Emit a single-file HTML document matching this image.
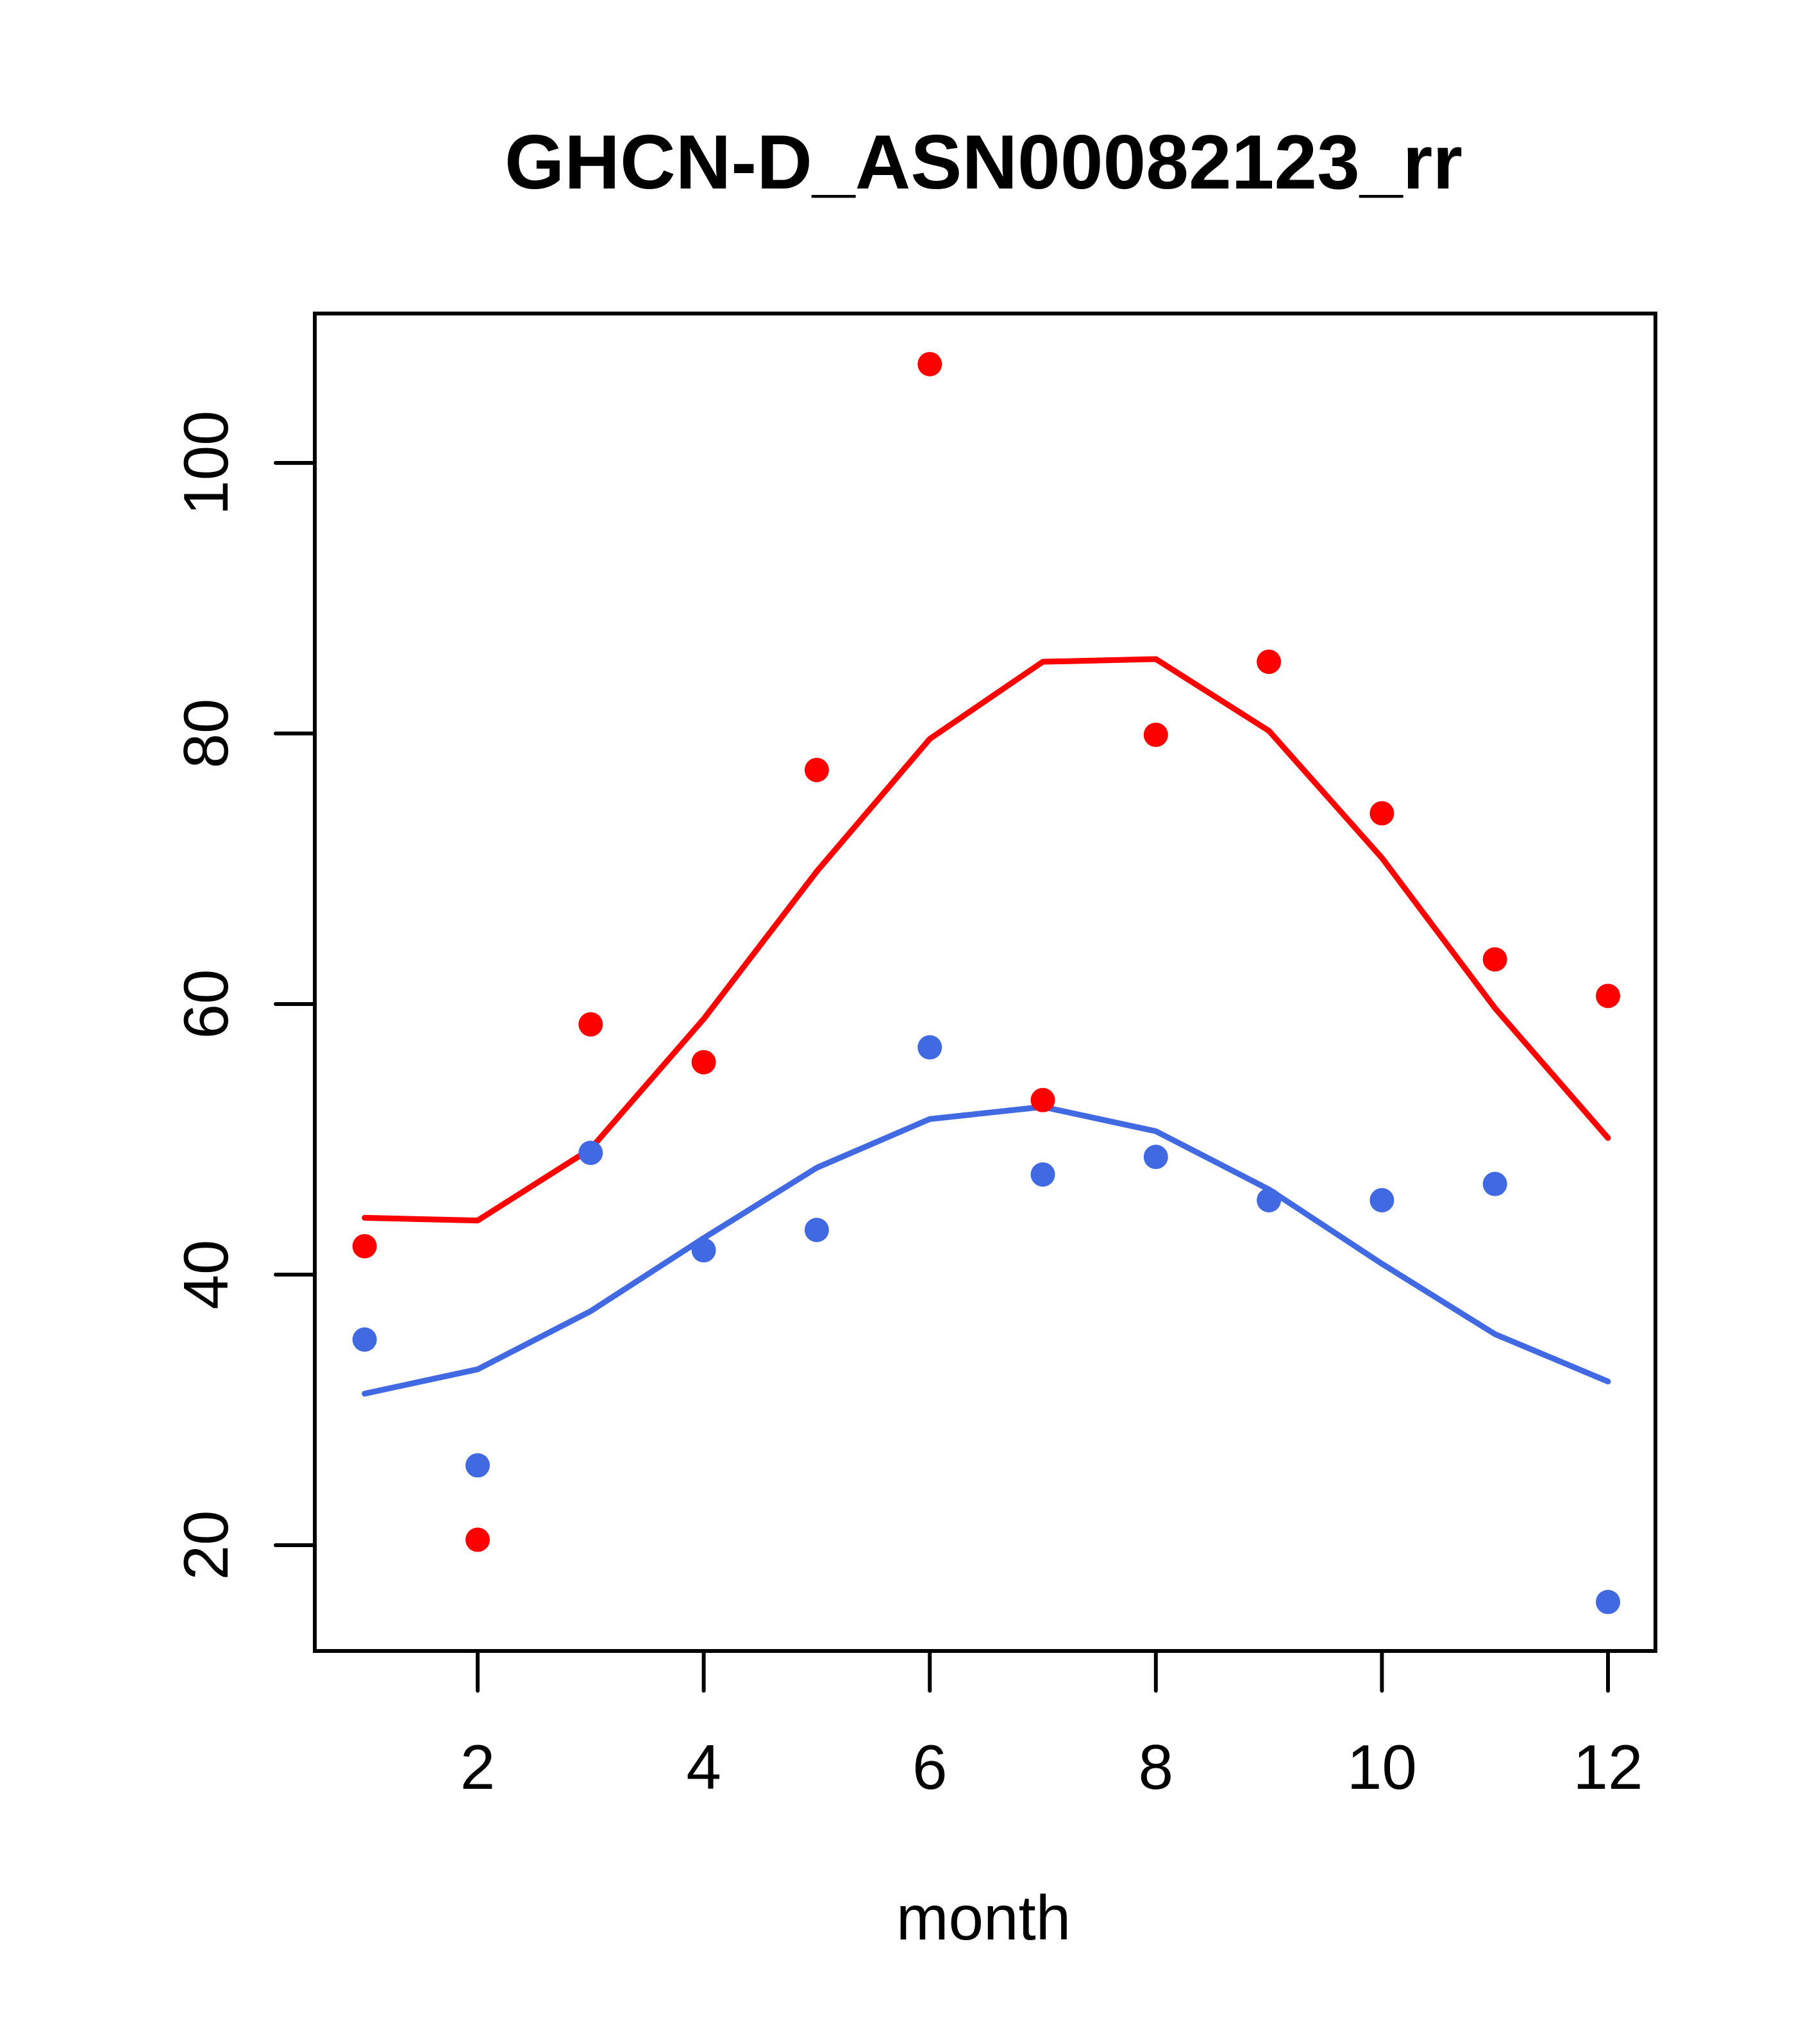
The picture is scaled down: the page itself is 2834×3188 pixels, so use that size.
<!DOCTYPE html>
<html><head><meta charset="utf-8"><style>
html,body{margin:0;padding:0;background:#fff}
svg{display:block}
text{font-family:"Liberation Sans",Arial,sans-serif}
</style></head><body>
<svg id="chart" width="2834" height="3188" viewBox="0 0 2834 3188" xmlns="http://www.w3.org/2000/svg">
<rect width="2834" height="3188" fill="#fff"/>
<text x="1534" y="294" font-size="120" font-weight="bold" text-anchor="middle">GHCN-D_ASN00082123_rr</text>
<rect x="491" y="489" width="2091" height="2086" fill="none" stroke="#000" stroke-width="6"/>
<text x="1534" y="3025" font-size="98" text-anchor="middle">month</text>
<g id="xaxis"></g>
<g id="yaxis"></g>
<g id="series"></g>
</svg>
<script>
const months=[1,2,3,4,5,6,7,8,9,10,11,12];
const redPoints=[42.1,20.4,58.5,55.7,77.3,107.3,52.9,79.9,85.3,74.1,63.3,60.6];
const redLine=[44.2,44.0,49.3,58.9,69.8,79.6,85.3,85.5,80.2,70.8,59.7,50.1];
const bluePoints=[35.2,25.9,49.0,41.8,43.3,56.8,47.4,48.7,45.5,45.5,46.7,15.8];
const blueLine=[31.2,33.0,37.3,42.7,47.9,51.5,52.4,50.6,46.3,40.8,35.6,32.1];
const xTicks=[2,4,6,8,10,12];
const yTicks=[20,40,60,80,100];

const NS="http://www.w3.org/2000/svg";
function X(m){return 745+(m-2)*176.3;}
function Y(v){return 2410-(v-20)*21.1;}
function mk(tag,attrs,parent){const e=document.createElementNS(NS,tag);for(const k in attrs)e.setAttribute(k,attrs[k]);parent.appendChild(e);return e;}
const xa=document.getElementById('xaxis'),ya=document.getElementById('yaxis'),sg=document.getElementById('series');
xTicks.forEach(t=>{
  const l=mk('line',{x1:X(t),x2:X(t),y1:2575,y2:2637,stroke:'#000','stroke-width':6,'stroke-linecap':'round'},xa);
  
  
  const tx=mk('text',{x:X(t),y:2790,'font-size':98,'text-anchor':'middle'},xa);
  tx.textContent=t;
  
  
});
yTicks.forEach(t=>{
  const l=mk('line',{x1:430,x2:491,y1:Y(t),y2:Y(t),stroke:'#000','stroke-width':6,'stroke-linecap':'round'},ya);
  
  
  const tx=mk('text',{x:0,y:0,'font-size':98,'text-anchor':'middle',transform:`translate(355,${Y(t)}) rotate(-90)`},ya);
  tx.textContent=t;
  
  
});
function line(vals,color,name){
  const p=mk('polyline',{points:vals.map((v,i)=>X(months[i])+','+Y(v)).join(' '),fill:'none',stroke:color,'stroke-width':9,'stroke-linejoin':'round','stroke-linecap':'round'},sg);
  
  
}
function pts(vals,color,name){
  vals.forEach((v,i)=>{
    const c=mk('circle',{cx:X(months[i]),cy:Y(v),r:19,fill:color},sg);
    
    
  });
}
line(redLine,'#ff0000','red-line');
line(blueLine,'#4169e1','blue-line');
pts(redPoints,'#ff0000','red-point');
pts(bluePoints,'#4169e1','blue-point');
</script>
</body></html>
